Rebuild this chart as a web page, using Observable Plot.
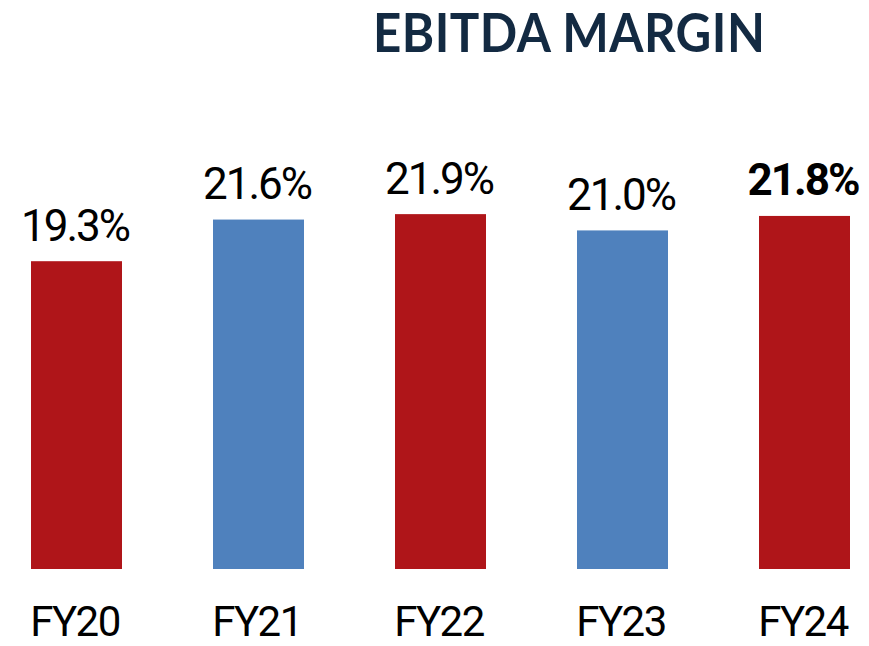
<!DOCTYPE html>
<html>
<head>
<meta charset="utf-8">
<script src="https://cdn.jsdelivr.net/npm/d3@7"></script>
<script src="https://cdn.jsdelivr.net/npm/@observablehq/plot@0.6"></script>
<style>
  html, body { margin: 0; padding: 0; background: #fff; }
  #wrap { position: relative; width: 869px; height: 646px; overflow: hidden; }
  #title { position: absolute; left: 373px; top: 5px; width: 480px; height: 70px; margin: 0;
    font-family: Lato, "Open Sans", sans-serif; font-weight: 700; font-size: 53px; line-height: 53px;
    letter-spacing: 0.5px; color: #132a42; white-space: nowrap;
    transform: scaleX(0.93); transform-origin: left top; }
  #chart { position: absolute; left: 0; top: 80px; }
  #chart svg text { font-family: Roboto, "Noto Sans", sans-serif; }
  #chart svg .vlabel text { letter-spacing: -2px; }
  #chart svg [aria-label="x-axis tick label"] text { letter-spacing: -1.5px; }
</style>
</head>
<body>
<div id="wrap">
  <div id="title">EBITDA MARGIN</div>
  <div id="chart"></div>
</div>
<script>
const years = ["FY20", "FY21", "FY22", "FY23", "FY24"];
const margins = [19.3, 21.6, 21.9, 21.0, 21.8];
const labels = ["19.3%", "21.6%", "21.9%", "21.0%", "21.8%"];
const barColors = ["#AF1519", "#4F81BD", "#AF1519", "#4F81BD", "#AF1519"];
const boldLabel = [false, false, false, false, true];
const yDomain = [2.3, 25];

const data = years.map((y, i) => ({year: y, value: margins[i], label: labels[i], color: barColors[i], bold: boldLabel[i]}));

const plot = Plot.plot({
  width: 869,
  height: 566,
  marginTop: 78,
  marginBottom: 77,
  marginLeft: 11,
  marginRight: 0,
  x: {domain: years, paddingInner: 0.5, paddingOuter: 0.105, label: null},
  y: {domain: yDomain, clamp: true, axis: null},
  marks: [
    Plot.barY(data, {x: "year", y1: yDomain[0], y2: "value", fill: "color"}),
    Plot.text(data.filter(d => !d.bold), {x: "year", y: "value", text: "label", lineAnchor: "bottom", dy: -21, dx: -2, fontSize: 44, fill: "#000", className: "vlabel"}),
    Plot.text(data.filter(d => d.bold), {x: "year", y: "value", text: "label", lineAnchor: "bottom", dy: -21, dx: -2, fontSize: 44, fontWeight: "bold", fill: "#000", className: "vlabel"}),
    Plot.axisX({tickSize: 0, tickPadding: 37, dx: -2, fontSize: 42, label: null, color: "#000"})
  ]
});
document.getElementById("chart").appendChild(plot);
</script>
</body>
</html>
